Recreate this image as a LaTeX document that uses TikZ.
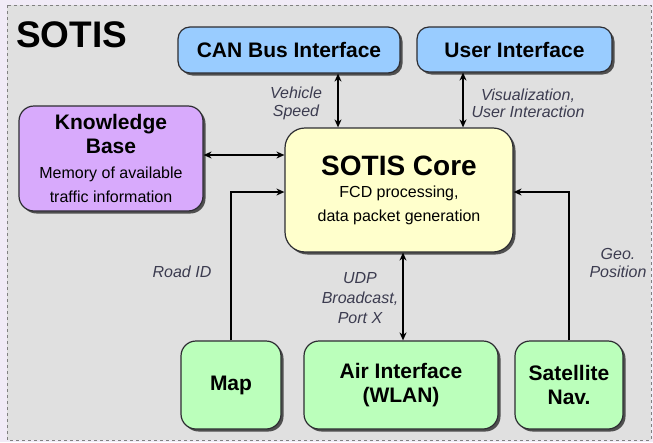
\documentclass[tikz,border=0pt]{standalone}
\usepackage{fontspec}
\setmainfont{Liberation Sans}
\usetikzlibrary{arrows.meta,shadows}

\definecolor{outerbg}{RGB}{241,235,247}
\definecolor{panelgray}{RGB}{224,224,224}
\definecolor{boxline}{RGB}{45,45,50}
\definecolor{notetext}{RGB}{60,60,80}
\definecolor{ifblue}{RGB}{153,204,255}
\definecolor{kbpurple}{RGB}{216,170,252}
\definecolor{coreyellow}{RGB}{255,255,204}
\definecolor{srcgreen}{RGB}{187,255,187}

\newcommand{\subtext}{\mdseries\fontsize{16}{18}\selectfont}

\tikzset{
    box/.style={draw=boxline, line width=1.2pt, rounded corners=12pt, align=center, inner sep=0pt,
        font=\bfseries\fontsize{21}{24}\selectfont,
        drop shadow={shadow xshift=2.5pt, shadow yshift=-2.5pt, fill=black!75, opacity=0.9}},
    note/.style={font=\itshape\fontsize{16}{17.5}\selectfont, text=notetext, align=center, inner sep=0pt},
    link/.style={line width=1.5pt, -{Stealth[length=8pt,width=7pt]}},
    duplex/.style={line width=1.5pt, {Stealth[length=8pt,width=7pt]}-{Stealth[length=8pt,width=7pt]}}
}

\begin{document}
\begin{tikzpicture}[x=1pt, y=-1pt]

    \useasboundingbox (0, 0) rectangle (653, 442);
    \fill[outerbg] (0, 0) rectangle (653, 442);
    \draw[fill=panelgray, draw=gray, dashed] (7, 5) rectangle (651, 440);

    \node[font=\bfseries\fontsize{37}{40}\selectfont, anchor=base west, inner sep=0pt] (title) at (16, 47) {SOTIS};

    % interfaces on top
    \node[box, fill=ifblue, minimum width=222pt, minimum height=46pt] (can) at (289, 50) {CAN Bus Interface};
    \node[box, fill=ifblue, minimum width=195pt, minimum height=45pt] (ui) at (514.5, 49.5) {User Interface};

    \node[box, fill=kbpurple, rounded corners=15pt, minimum width=184pt, minimum height=105pt] (kb) at (111, 158.5)
        {Knowledge\\Base\\[1pt]\subtext Memory of available\\\subtext traffic information};

    \node[box, fill=coreyellow, rounded corners=20pt, minimum width=228pt, minimum height=124pt] (core) at (399, 190)
        {\fontsize{28}{31}\selectfont SOTIS Core\\[-2pt]\subtext FCD processing,\\\subtext data packet generation};

    % sources at the bottom
    \node[box, fill=srcgreen, rounded corners=15pt, minimum width=100pt, minimum height=88pt] (map) at (231, 385) {Map};
    \node[box, fill=srcgreen, rounded corners=15pt, minimum width=194pt, minimum height=88pt] (air) at (401, 385) {Air Interface\\(WLAN)};
    \node[box, fill=srcgreen, rounded corners=15pt, minimum width=108pt, minimum height=88pt] (sat) at (569, 385) {Satellite\\Nav.};

    \coordinate (canx) at (338, 0);
    \coordinate (uix) at (463, 0);
    \coordinate (kby) at (0, 155);
    \coordinate (airx) at (403, 0);
    \coordinate (feedy) at (0, 192);

    \draw[duplex] (can.south -| canx) -- (core.north -| canx);
    \draw[duplex] (ui.south -| uix) -- (core.north -| uix);
    \draw[duplex] (kb.east |- kby) -- (core.west |- kby);
    \draw[duplex] (air.north -| airx) -- (core.south -| airx);
    \draw[link] (map.north) |- (core.west |- feedy);
    \draw[link] (sat.north) |- (core.east |- feedy);

    \node[note] (speed) at (296, 103.5) {Vehicle\\Speed};
    \node[note] (vis) at (528, 103.5) {Visualization,\\User Interaction};
    \node[note] (road) at (182, 272) {Road ID};
    \node[note, font=\itshape\fontsize{16}{20}\selectfont] (udp) at (360, 298) {UDP\\Broadcast,\\Port X};
    \node[note] (geo) at (618, 263) {Geo.\\Position};

\end{tikzpicture}
\end{document}
